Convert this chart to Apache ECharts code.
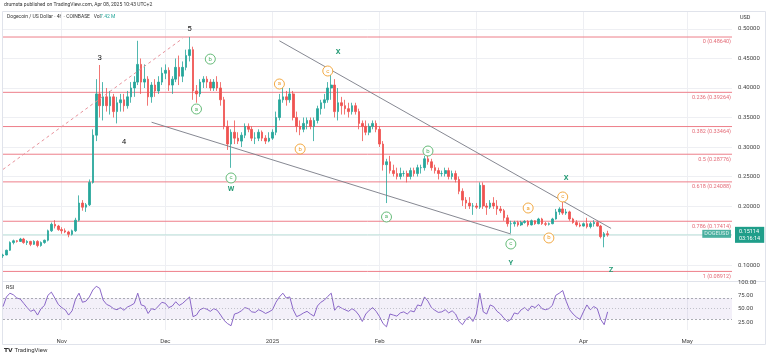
<!DOCTYPE html>
<html><head><meta charset="utf-8">
<script src="https://cdn.jsdelivr.net/npm/echarts@6/dist/echarts.min.js"></script>
<style>html,body{margin:0;padding:0;background:#fff}#c{width:768px;height:359px}</style>
</head><body><div id="c"></div>
<script>
// ---------- DATA (daily candles: [open, high, low, close]) ----------
const firstDay = '2024-10-15';
const totalDays = 212; // Oct 15 2024 .. May 14 2025 (axis span)
const candlesOct = [[.1155,.1190,.1120,.1170],[.1170,.1260,.1165,.1250],[.1250,.1400,.1240,.1380],[.1380,.1430,.1350,.1410],[.1410,.1420,.1380,.1400],[.1400,.1460,.1390,.1440],[.1440,.1460,.1360,.1380],[.1380,.1420,.1340,.1400],[.1400,.1410,.1320,.1350],[.1350,.1420,.1340,.1400],[.1400,.1420,.1300,.1330],[.1330,.1400,.1310,.1380],[.1380,.1430,.1360,.1420],[.1420,.1600,.1400,.1580],[.1580,.1720,.1560,.1690],[.1690,.1760,.1620,.1660],[.1660,.1680,.1580,.1600]];
const candlesNov = [[.1600,.1640,.1530,.1580],[.1580,.1620,.1540,.1560],[.1560,.1580,.1470,.1520],[.1520,.1600,.1500,.1580],[.1580,.1800,.1560,.1760],[.1760,.2180,.1740,.2050],[.2050,.2100,.1920,.1980],[.1980,.2050,.1900,.2020],[.2020,.2450,.2000,.2400],[.2400,.3300,.2380,.3200],[.3200,.4150,.3100,.3900],[.3900,.4390,.3500,.3700],[.3700,.4100,.3450,.3850],[.3850,.4000,.3600,.3700],[.3700,.3950,.3550,.3850],[.3850,.3900,.3500,.3600],[.3600,.3850,.3400,.3750],[.3750,.3900,.3600,.3800],[.3800,.3900,.3600,.3700],[.3700,.3950,.3650,.3850],[.3850,.4100,.3750,.4000],[.4000,.4200,.3850,.4100],[.4100,.4800,.4050,.4400],[.4400,.4500,.3900,.4100],[.4100,.4400,.4000,.4150],[.4150,.4200,.3700,.3850],[.3850,.4100,.3750,.4050],[.4050,.4150,.3850,.3950],[.3950,.4200,.3900,.4100],[.4100,.4350,.4050,.4250]];
const candlesDec = [[.4250,.4400,.4150,.4300],[.4300,.4350,.3950,.4050],[.4050,.4200,.3900,.4150],[.4150,.4500,.4100,.4350],[.4350,.4550,.4050,.4200],[.4200,.4450,.4100,.4350],[.4350,.4650,.4300,.4550],[.4550,.4864,.4450,.4650],[.4650,.4700,.3800,.3950],[.3950,.4050,.3750,.3900],[.3900,.4150,.3850,.4100],[.4100,.4200,.4000,.4150],[.4150,.4200,.4000,.4100],[.4100,.4150,.3950,.4000],[.4000,.4150,.3950,.4100],[.4100,.4200,.3950,.4000],[.4000,.4100,.3700,.3800],[.3800,.3850,.3300,.3350],[.3350,.3450,.2950,.3050],[.3050,.3300,.2647,.3250],[.3250,.3450,.3050,.3150],[.3150,.3250,.3050,.3100],[.3100,.3250,.3000,.3200],[.3200,.3400,.3150,.3350],[.3350,.3400,.3250,.3300],[.3300,.3350,.3100,.3150],[.3150,.3250,.3050,.3150],[.3150,.3300,.3100,.3250],[.3250,.3280,.3100,.3150],[.3150,.3200,.3050,.3100],[.3100,.3250,.3080,.3150]];
const candlesJan = [[.3150,.3300,.3120,.3250],[.3250,.3600,.3200,.3500],[.3500,.3900,.3450,.3800],[.3800,.4000,.3750,.3850],[.3850,.3950,.3700,.3800],[.3800,.4000,.3750,.3900],[.3900,.3950,.3450,.3500],[.3500,.3600,.3250,.3350],[.3350,.3450,.3200,.3300],[.3300,.3500,.3250,.3400],[.3400,.3500,.3300,.3450],[.3450,.3500,.3300,.3350],[.3350,.3500,.3100,.3450],[.3450,.3700,.3400,.3650],[.3650,.3800,.3550,.3750],[.3750,.3900,.3650,.3800],[.3800,.4100,.3750,.4000],[.4000,.4250,.3800,.4050],[.4050,.4150,.3500,.3600],[.3600,.4000,.3450,.3750],[.3750,.3850,.3550,.3700],[.3700,.3800,.3550,.3650],[.3650,.3750,.3500,.3600],[.3600,.3750,.3550,.3700],[.3700,.3750,.3550,.3600],[.3600,.3650,.3300,.3400],[.3400,.3450,.3100,.3350],[.3350,.3450,.3200,.3250],[.3250,.3400,.3200,.3350],[.3350,.3450,.3300,.3400],[.3400,.3450,.3250,.3300]];
const candlesFeb = [[.3300,.3350,.3000,.3050],[.3050,.3100,.2600,.2700],[.2700,.2800,.2050,.2750],[.2750,.2850,.2550,.2600],[.2600,.2700,.2500,.2550],[.2550,.2650,.2450,.2500],[.2500,.2650,.2450,.2550],[.2550,.2600,.2500,.2550],[.2550,.2600,.2400,.2500],[.2500,.2650,.2450,.2600],[.2600,.2650,.2500,.2550],[.2550,.2700,.2500,.2650],[.2650,.2700,.2550,.2650],[.2650,.2850,.2600,.2800],[.2800,.2850,.2700,.2750],[.2750,.2800,.2600,.2650],[.2650,.2700,.2550,.2600],[.2600,.2650,.2450,.2550],[.2550,.2600,.2500,.2550],[.2550,.2650,.2500,.2600],[.2600,.2650,.2450,.2500],[.2500,.2600,.2450,.2550],[.2550,.2600,.2400,.2450],[.2450,.2500,.2200,.2250],[.2250,.2300,.2000,.2100],[.2100,.2150,.1950,.2050],[.2050,.2150,.1950,.2000],[.2000,.2050,.1850,.2000]];
const candlesMar = [[.2000,.2050,.1950,.1980],[.1980,.2400,.1950,.2350],[.2350,.2400,.1950,.2000],[.2000,.2050,.1850,.1980],[.1980,.2100,.1950,.2050],[.2050,.2150,.1950,.2000],[.2000,.2100,.1850,.1950],[.1950,.2000,.1880,.1920],[.1920,.1950,.1750,.1800],[.1800,.1850,.1650,.1700],[.1700,.1750,.1540,.1700],[.1700,.1750,.1650,.1720],[.1720,.1750,.1650,.1680],[.1680,.1750,.1660,.1720],[.1720,.1760,.1700,.1740],[.1740,.1760,.1650,.1680],[.1680,.1770,.1670,.1750],[.1750,.1760,.1680,.1700],[.1700,.1800,.1690,.1780],[.1780,.1800,.1680,.1700],[.1700,.1730,.1660,.1690],[.1690,.1720,.1670,.1700],[.1700,.1800,.1690,.1780],[.1780,.1950,.1770,.1900],[.1900,.1980,.1850,.1950],[.1950,.2070,.1850,.1880],[.1880,.1950,.1850,.1900],[.1900,.1920,.1750,.1780],[.1780,.1800,.1700,.1720],[.1720,.1760,.1650,.1680],[.1680,.1720,.1640,.1660]];
const candlesApr = [[.1660,.1720,.1650,.1700],[.1700,.1800,.1620,.1650],[.1650,.1730,.1620,.1700],[.1700,.1760,.1650,.1720],[.1720,.1740,.1650,.1660],[.1660,.1680,.1450,.1480],[.1480,.1560,.1300,.1530],[.1530,.1580,.1480,.15114]];

const rsiOct = [54,72,79,76,70,68,60,52,45,48,38,50,56,75,81,70,58];
const rsiNov = [52,48,38,46,68,79,62,64,72,85,92,88,66,58,55,50,48,52,47,53,56,60,79,57,55,41,50,48,55,62];
const rsiDec = [60,52,55,63,56,60,66,72,35,38,48,51,49,45,50,47,38,28,22,18,40,42,46,52,50,44,43,48,45,41,44];
const rsiJan = [48,62,72,79,70,72,48,35,38,42,45,40,36,55,62,66,73,79,47,55,51,48,45,50,46,38,26,40,47,52,45];
const rsiFeb = [35,22,16,40,38,36,42,44,40,46,44,57,55,72,64,52,47,43,44,48,42,46,40,26,20,30,35,26];
const rsiMar = [40,79,44,40,57,54,45,40,32,26,30,42,40,48,52,46,55,52,58,50,48,50,56,75,79,84,64,48,40,34,30];
const rsiApr = [44,57,48,54,50,30,20,44];

const fibRatios = ['0','0.236','0.382','0.5','0.618','0.786','1'];
const fibPrices = [0.48640,0.39264,0.33464,0.28776,0.24088,0.17414,0.08912];
const lastPrice = 0.15114;
const countdown = '03:16:14';
const priceTicks = [0.10,0.15,0.20,0.25,0.30,0.35,0.40,0.45,0.50];
const rsiTicks = [25,50,75,100];
const monthNames = {'01':'2025','02':'Feb','03':'Mar','04':'Apr','05':'May','10':'Oct','11':'Nov','12':'Dec'};

// trend lines: [date, price]
const dashedTrend = [['2024-10-15',0.262],['2024-12-06',0.484]];
const upperTrend = [['2025-01-03',0.480],['2025-04-09',0.162]];
const lowerTrend = [['2024-11-27',0.342],['2025-03-11',0.1525]];

// wave labels: [text, date, price, style]
const waveLabels = [
  ['3','2024-11-12',0.451,'num'],['4','2024-11-19',0.3085,'num'],['5','2024-12-08',0.500,'num'],
  ['b','2024-12-14',0.449,'gc'],['a','2024-12-10',0.3644,'gc'],['c','2024-12-20',0.2475,'gc'],['W','2024-12-20',0.2288,'g'],
  ['a','2025-01-03',0.4068,'oc'],['b','2025-01-09',0.2966,'oc'],['c','2025-01-17',0.4288,'oc'],['X','2025-01-20',0.461,'g'],
  ['a','2025-02-03',0.1814,'gc'],['b','2025-02-15',0.2932,'gc'],['c','2025-03-11',0.1356,'gc'],['Y','2025-03-11',0.1034,'g'],
  ['a','2025-03-16',0.1966,'oc'],['b','2025-03-22',0.1458,'oc'],['c','2025-03-26',0.2153,'oc'],['X','2025-03-27',0.2475,'g'],
  ['Z','2025-04-09',0.0915,'g']
];

// ---------- build ----------
const dates = [];
const d0 = new Date(firstDay + 'T00:00:00Z');
for (let i = 0; i < totalDays; i++) {
  const d = new Date(d0.getTime() + i * 86400000);
  dates.push(d.toISOString().slice(0, 10));
}
const firstCat = dates[0], lastCat = dates[dates.length - 1];
const allCandles = [].concat(candlesOct, candlesNov, candlesDec, candlesJan, candlesFeb, candlesMar, candlesApr);
const candleData = allCandles.map(r => [r[0], r[3], r[2], r[1]]); // echarts: open, close, low, high
const rsiAll = [].concat(rsiOct, rsiNov, rsiDec, rsiJan, rsiFeb, rsiMar, rsiApr);

const isMonthStart = (idx, val) => val.slice(8) === '01';
const UP = '#26a69a', DOWN = '#ef5350';
const FIB_LINE = '#ee7f8a', FIB_TEXT = '#e36a76';
const FONT = 'Roboto, sans-serif';

const styles = {
  num: {color: '#222', size: 0, fs: 8},
  g:   {color: '#2a9d78', size: 0, fs: 7.5},
  gc:  {color: '#55b36a', size: 10, fs: 6},
  oc:  {color: '#f0a030', size: 10, fs: 6}
};
const labelData = waveLabels.map(w => {
  const s = styles[w[3]];
  return {
    value: [w[1], w[2]],
    symbol: 'circle',
    symbolSize: s.size,
    itemStyle: {color: '#fff', borderColor: s.color, borderWidth: s.size ? 0.9 : 0, opacity: 1},
    label: {show: true, position: 'inside', formatter: w[0], color: s.color, fontSize: s.fs,
            fontFamily: FONT, fontWeight: w[3] === 'g' ? 'bold' : 'normal'}
  };
});

// horizontal level series (fib levels and last price), spanning the whole category axis
const fibSeries = fibPrices.map((p, i) => ({
  type: 'line', xAxisIndex: 0, yAxisIndex: 0, silent: true, z: 1,
  symbol: 'circle', symbolSize: 0.01, showSymbol: true,
  lineStyle: {color: FIB_LINE, width: 1, type: 'solid'},
  itemStyle: {color: FIB_LINE},
  data: [
    {value: [firstCat, p], label: {show: false}},
    {value: [lastCat, p], label: {show: true, position: 'left', distance: 1, offset: [0, 5],
      formatter: fibRatios[i] + ' (' + p.toFixed(5) + ')', color: FIB_TEXT, fontSize: 5.5, fontFamily: FONT}}
  ]
}));

const lastSeries = {
  type: 'line', xAxisIndex: 0, yAxisIndex: 0, silent: true, z: 1,
  symbol: 'circle', symbolSize: 0.01, showSymbol: true,
  lineStyle: {color: '#bfe3dc', width: 1, type: 'solid'},
  itemStyle: {color: '#bfe3dc'},
  data: [
    {value: [firstCat, lastPrice], label: {show: false}},
    {value: [lastCat, lastPrice], label: {show: true, position: 'right', distance: 3,
      formatter: lastPrice.toFixed(5) + '\n' + countdown, backgroundColor: '#1f9e8a', color: '#fff',
      fontSize: 5.5, lineHeight: 7, padding: [1, 4, 1, 4], fontFamily: FONT}}
  ]
};
const tagSeries = {
  type: 'scatter', xAxisIndex: 0, yAxisIndex: 0, silent: true, z: 6,
  symbol: 'circle', symbolSize: 0.01,
  itemStyle: {color: '#1f9e8a'},
  data: [{value: [lastCat, lastPrice], label: {show: true, position: 'left', distance: 1, offset: [0, -1],
    formatter: 'DOGEUSD', backgroundColor: '#1f9e8a', color: '#fff', fontSize: 5.5, padding: [1, 2, 1, 2], fontFamily: FONT}}]
};

const chart = echarts.init(document.getElementById('c'), null, {renderer: 'canvas'});
const axisFont = {fontSize: 6, color: '#444', fontFamily: FONT};

chart.setOption({
  animation: false,
  backgroundColor: '#fff',
  grid: [
    {left: 3, right: 36, top: 12, height: 268},
    {left: 3, right: 36, top: 282, height: 48}
  ],
  xAxis: [
    {type: 'category', gridIndex: 0, data: dates, boundaryGap: false,
     axisLine: {show: false}, axisTick: {show: false}, axisLabel: {show: false},
     splitLine: {show: true, interval: isMonthStart, lineStyle: {color: '#eeeff3', width: 1}}},
    {type: 'category', gridIndex: 1, data: dates, boundaryGap: false,
     axisLine: {show: false}, axisTick: {show: false},
     axisLabel: Object.assign({show: true, interval: isMonthStart, margin: 8,
       formatter: v => monthNames[v.slice(5, 7)]}, axisFont),
     splitLine: {show: true, interval: isMonthStart, lineStyle: {color: '#eeeff3', width: 1}}}
  ],
  yAxis: [
    {type: 'value', gridIndex: 0, position: 'right', min: 0.07458, max: 0.52881, scale: true,
     axisLine: {show: false}, axisTick: {show: false, customValues: priceTicks},
     axisLabel: Object.assign({customValues: priceTicks, margin: 6, formatter: v => v.toFixed(5)}, axisFont),
     splitLine: {show: true, lineStyle: {color: '#eeeff3', width: 1}}},
    {type: 'value', gridIndex: 1, position: 'right', min: 10, max: 100,
     axisLine: {show: false}, axisTick: {show: false, customValues: rsiTicks},
     axisLabel: Object.assign({customValues: rsiTicks, margin: 6, formatter: v => v.toFixed(2)}, axisFont),
     splitLine: {show: false}}
  ],
  series: fibSeries.concat([
    lastSeries,
    {type: 'line', xAxisIndex: 0, yAxisIndex: 0, data: dashedTrend, symbol: 'none', silent: true, z: 3,
     lineStyle: {color: '#e8939c', width: 1, type: [3, 3]}},
    {type: 'line', xAxisIndex: 0, yAxisIndex: 0, data: upperTrend, symbol: 'none', silent: true, z: 3,
     lineStyle: {color: '#787b86', width: 0.9}},
    {type: 'line', xAxisIndex: 0, yAxisIndex: 0, data: lowerTrend, symbol: 'none', silent: true, z: 3,
     lineStyle: {color: '#787b86', width: 0.9}},
    {type: 'candlestick', xAxisIndex: 0, yAxisIndex: 0, data: candleData, barWidth: '60%', z: 2,
     itemStyle: {color: UP, color0: DOWN, borderColor: UP, borderColor0: DOWN, borderWidth: 0.8}},
    {type: 'scatter', xAxisIndex: 0, yAxisIndex: 0, data: labelData, silent: true, z: 5},
    tagSeries,
    {type: 'line', xAxisIndex: 1, yAxisIndex: 1, data: rsiAll, symbol: 'none', silent: true,
     lineStyle: {color: '#7e57c2', width: 0.9},
     markArea: {silent: true, itemStyle: {color: 'rgba(126,87,194,0.09)'}, data: [[{yAxis: 30}, {yAxis: 70}]]},
     markLine: {silent: true, symbol: 'none', label: {show: false},
       data: [
         {yAxis: 70, lineStyle: {color: '#9598a1', type: [2, 2], width: 0.8}},
         {yAxis: 50, lineStyle: {color: '#b2b5be', type: [1, 2], width: 0.8}},
         {yAxis: 30, lineStyle: {color: '#9598a1', type: [2, 2], width: 0.8}}
       ]}}
  ]),
  graphic: [
    {type: 'rect', silent: true, shape: {x: 2.5, y: 11.5, width: 763, height: 333},
     style: {fill: 'none', stroke: '#e0e3eb', lineWidth: 1}},
    {type: 'line', silent: true, shape: {x1: 3, y1: 281.5, x2: 765, y2: 281.5}, style: {stroke: '#e0e3eb', lineWidth: 1}},
    {type: 'text', silent: true, left: 4, top: 2,
     style: {text: 'drumsta published on TradingView.com, Apr 08, 2025 10:43 UTC+2', fontSize: 5, fill: '#333', fontFamily: FONT}},
    {type: 'text', silent: true, left: 7, top: 14,
     style: {text: 'Dogecoin / US Dollar · 4h · COINBASE   Vol', fontSize: 5, fill: '#333', fontFamily: FONT}},
    {type: 'text', silent: true, left: 100, top: 14,
     style: {text: '7.42 M', fontSize: 5, fill: '#26a69a', fontFamily: FONT}},
    {type: 'text', silent: true, left: 740, top: 15,
     style: {text: 'USD', fontSize: 5.5, fill: '#333', fontFamily: FONT}},
    {type: 'text', silent: true, left: 6, top: 285,
     style: {text: 'RSI', fontSize: 5.5, fill: '#333', fontFamily: FONT}},
    {type: 'text', silent: true, left: 4, top: 347,
     style: {text: '𝗧𝗩 TradingView', fontSize: 6, fill: '#333', fontFamily: FONT}}
  ]
});
</script>
</body></html>
